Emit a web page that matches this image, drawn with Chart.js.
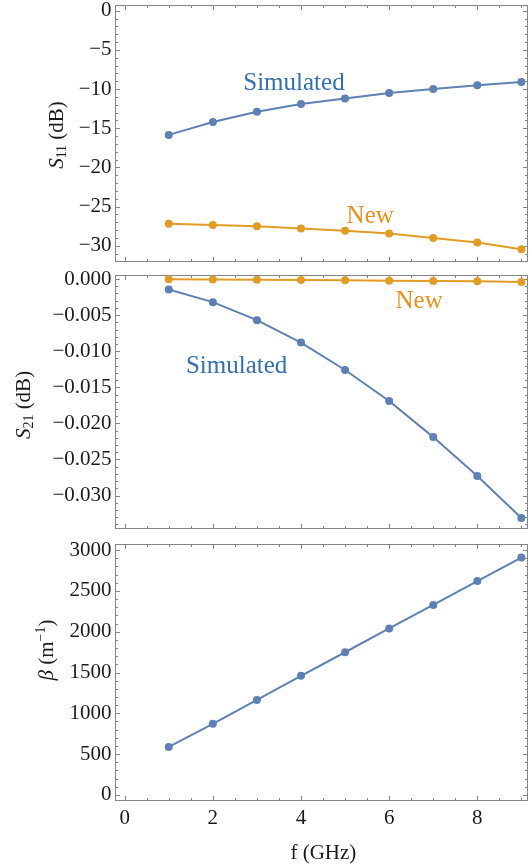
<!DOCTYPE html>
<html>
<head>
<meta charset="utf-8">
<script src="https://cdn.jsdelivr.net/npm/chart.js@4.4.1/dist/chart.umd.min.js"></script>
<style>
  html, body { margin: 0; padding: 0; background: #fff; }
  #wrap { position: relative; width: 529px; height: 865px; }
  .panel { position: absolute; left: 0; width: 529px; }
  #p1 { top: 0; height: 268px; }
  #p2 { top: 268px; height: 268px; }
  #p3 { top: 536px; height: 329px; }
</style>
</head>
<body>
<div id="wrap">
  <div class="panel" id="p1"><canvas id="s11-chart"></canvas></div>
  <div class="panel" id="p2"><canvas id="s21-chart"></canvas></div>
  <div class="panel" id="p3"><canvas id="beta-chart"></canvas></div>
</div>
<script>
const freq = [1, 2, 3, 4, 5, 6, 7, 8, 9];

const s11Simulated = [-15.85, -14.2, -12.9, -11.9, -11.2, -10.5, -10.0, -9.5, -9.1];
const s11New = [-27.2, -27.35, -27.5, -27.8, -28.1, -28.45, -29.0, -29.6, -30.45];

const s21Simulated = [-0.00144, -0.0032, -0.0057, -0.0088, -0.0126, -0.0169, -0.0219, -0.0273, -0.0331];
const s21New = [-0.00002, -0.00005, -0.0001, -0.00014, -0.00018, -0.00023, -0.00028, -0.00032, -0.0004];

const beta = [588, 872, 1164, 1460, 1748, 2040, 2328, 2620, 2908];

const freqTicks = [0, 2, 4, 6, 8];
const s11Ticks = [0, -5, -10, -15, -20, -25, -30];
const s21Ticks = [0, -0.005, -0.01, -0.015, -0.02, -0.025, -0.03];
const betaTicks = [0, 500, 1000, 1500, 2000, 2500, 3000];

const BLUE = '#5e81b5';
const ORANGE = '#e19c24';
const BLUE_TEXT = '#3170b2';
const ORANGE_TEXT = '#ea8f1c';
const SERIF = '"Liberation Serif", "Times New Roman", serif';
const INK = '#1a1a1a';

function series(ys, color) {
    return {
        data: freq.map((f, i) => ({ x: f, y: ys[i] })),
        borderColor: color,
        backgroundColor: color,
        borderWidth: 2,
        pointRadius: 4,
        pointHoverRadius: 4,
        pointBorderWidth: 0,
        tension: 0,
        clip: false
    };
}

function fmt(v, digits) {
    if (Math.abs(v) < 1e-12) v = 0;
    return v.toFixed(digits).replace('-', '\u2212');
}

function isMajor(v, ticks, step) {
    return ticks.some(t => Math.abs(t - v) < step * 1e-3);
}

// frame with inward ticks on all four sides, text labels and rich axis titles
const framePlugin = {
    id: 'frameTicks',
    beforeDatasetsDraw(chart, args, o) {
        const { ctx, chartArea: a } = chart;
        const x = chart.scales.x, y = chart.scales.y;
        const L = Math.round(a.left) + 0.5, R = Math.round(a.right) - 0.5;
        const T = Math.round(a.top) + 0.5, B = Math.round(a.bottom) - 0.5;
        ctx.save();
        ctx.strokeStyle = '#858585';
        ctx.lineWidth = 1;
        ctx.strokeRect(L, T, R - L, B - T);
        ctx.beginPath();
        for (let k = Math.ceil(x.min / o.xMinor); k * o.xMinor <= x.max; k++) {
            const v = k * o.xMinor;
            const len = isMajor(v, freqTicks, o.xMinor) ? 4.5 : 2.5;
            const px = Math.round(x.getPixelForValue(v)) + 0.5;
            ctx.moveTo(px, B); ctx.lineTo(px, B - len);
            ctx.moveTo(px, T); ctx.lineTo(px, T + len);
        }
        for (let k = Math.ceil(y.min / o.yMinor); k * o.yMinor <= y.max; k++) {
            const v = k * o.yMinor;
            const len = isMajor(v, o.yTicks, o.yMinor) ? 4.5 : 2.5;
            const py = Math.round(y.getPixelForValue(v)) + 0.5;
            ctx.moveTo(L, py); ctx.lineTo(L + len, py);
            ctx.moveTo(R, py); ctx.lineTo(R - len, py);
        }
        ctx.stroke();
        ctx.restore();
    },
    afterDatasetsDraw(chart, args, o) {
        const { ctx } = chart;
        const x = chart.scales.x, y = chart.scales.y;
        ctx.save();
        ctx.textAlign = 'center';
        ctx.textBaseline = 'alphabetic';
        ctx.font = '25px ' + SERIF;
        (o.labels || []).forEach(l => {
            ctx.fillStyle = l.color;
            ctx.fillText(l.text, x.getPixelForValue(l.x), y.getPixelForValue(l.y));
        });

        // rotated y title made of parts (italic, sub, sup)
        const t = o.yTitle;
        ctx.translate(t.cx, t.cy);
        ctx.rotate(-Math.PI / 2);
        ctx.fillStyle = INK;
        ctx.textAlign = 'left';
        ctx.textBaseline = 'middle';
        const partFont = p => (p.italic ? 'italic ' : '') + ((p.sub || p.sup) ? 14 : 21) + 'px ' + SERIF;
        let w = 0;
        t.parts.forEach(p => { ctx.font = partFont(p); w += ctx.measureText(p.text).width; });
        let cx = -w / 2;
        t.parts.forEach(p => {
            ctx.font = partFont(p);
            const dy = p.sub ? 5 : (p.sup ? -6 : 0);
            ctx.fillText(p.text, cx, dy);
            cx += ctx.measureText(p.text).width;
        });
        ctx.restore();

        if (o.xTitle) {
            ctx.save();
            ctx.fillStyle = INK;
            ctx.font = '21px ' + SERIF;
            ctx.textAlign = 'center';
            ctx.textBaseline = 'alphabetic';
            ctx.fillText(o.xTitle.text, o.xTitle.cx, o.xTitle.cy);
            ctx.restore();
        }
    }
};

function makeOptions(p) {
    return {
        responsive: true,
        maintainAspectRatio: false,
        animation: false,
        events: [],
        layout: { autoPadding: false, padding: { top: p.padTop, bottom: p.padBottom, left: 0, right: 1 } },
        plugins: {
            legend: { display: false },
            tooltip: { enabled: false },
            frameTicks: {
                xMinor: 0.5,
                yMinor: p.yMinor,
                yTicks: p.yTicks,
                labels: p.labels,
                yTitle: p.yTitle,
                xTitle: p.xTitle
            }
        },
        scales: {
            x: {
                type: 'linear',
                min: -0.22,
                max: 9.15,
                display: p.showX,
                afterBuildTicks: s => { s.ticks = freqTicks.map(v => ({ value: v })); },
                afterFit: s => {
                    if (p.xHeight) s.height = p.xHeight;
                    s.paddingLeft = 0; s.paddingRight = 0;
                },
                grid: { display: false, drawTicks: false },
                border: { display: false },
                ticks: {
                    autoSkip: false,
                    maxRotation: 0,
                    padding: 5,
                    color: INK,
                    font: { family: SERIF, size: 21 },
                    callback: v => String(v)
                }
            },
            y: {
                type: 'linear',
                min: p.yMin,
                max: p.yMax,
                afterBuildTicks: s => { s.ticks = p.yTicks.map(v => ({ value: v })); },
                afterFit: s => {
                    s.width = 115;
                    s.paddingTop = 0; s.paddingBottom = 0;
                },
                grid: { display: false, drawTicks: false },
                border: { display: false },
                ticks: {
                    autoSkip: false,
                    padding: 3.5,
                    color: INK,
                    font: { family: SERIF, size: 21 },
                    callback: v => fmt(v, p.digits)
                }
            }
        }
    };
}

new Chart(document.getElementById('s11-chart'), {
    type: 'line',
    data: { datasets: [series(s11Simulated, BLUE), series(s11New, ORANGE)] },
    options: makeOptions({
        padTop: 5.3, padBottom: 6, showX: false,
        yMin: -32.08, yMax: 0.7, yTicks: s11Ticks, yMinor: 1, digits: 0,
        labels: [
            { text: 'Simulated', x: 3.84, y: -10.11, color: BLUE_TEXT },
            { text: 'New', x: 5.57, y: -27.15, color: ORANGE_TEXT }
        ],
        yTitle: { cx: 57, cy: 135, parts: [{ text: 'S', italic: true }, { text: '11', sub: true }, { text: ' (dB)' }] }
    }),
    plugins: [framePlugin]
});

new Chart(document.getElementById('s21-chart'), {
    type: 'line',
    data: { datasets: [series(s21Simulated, BLUE), series(s21New, ORANGE)] },
    options: makeOptions({
        padTop: 6.7, padBottom: 7, showX: false,
        yMin: -0.03463, yMax: 0.0006, yTicks: s21Ticks, yMinor: 0.001, digits: 3,
        labels: [
            { text: 'New', x: 6.68, y: -0.00398, color: ORANGE_TEXT },
            { text: 'Simulated', x: 2.54, y: -0.01304, color: BLUE_TEXT }
        ],
        yTitle: { cx: 24, cy: 137, parts: [{ text: 'S', italic: true }, { text: '21', sub: true }, { text: ' (dB)' }] }
    }),
    plugins: [framePlugin]
});

new Chart(document.getElementById('beta-chart'), {
    type: 'line',
    data: { datasets: [series(beta, BLUE)] },
    options: makeOptions({
        padTop: 8.3, padBottom: 0, showX: true, xHeight: 64.3,
        yMin: -70, yMax: 3070, yTicks: betaTicks, yMinor: 100, digits: 0,
        labels: [],
        yTitle: { cx: 47, cy: 114, parts: [{ text: '\u03b2', italic: true }, { text: ' (m' }, { text: '\u22121', sup: true }, { text: ')' }] },
        xTitle: { text: 'f (GHz)', cx: 323.4, cy: 323 }
    }),
    plugins: [framePlugin]
});
</script>
</body>
</html>
